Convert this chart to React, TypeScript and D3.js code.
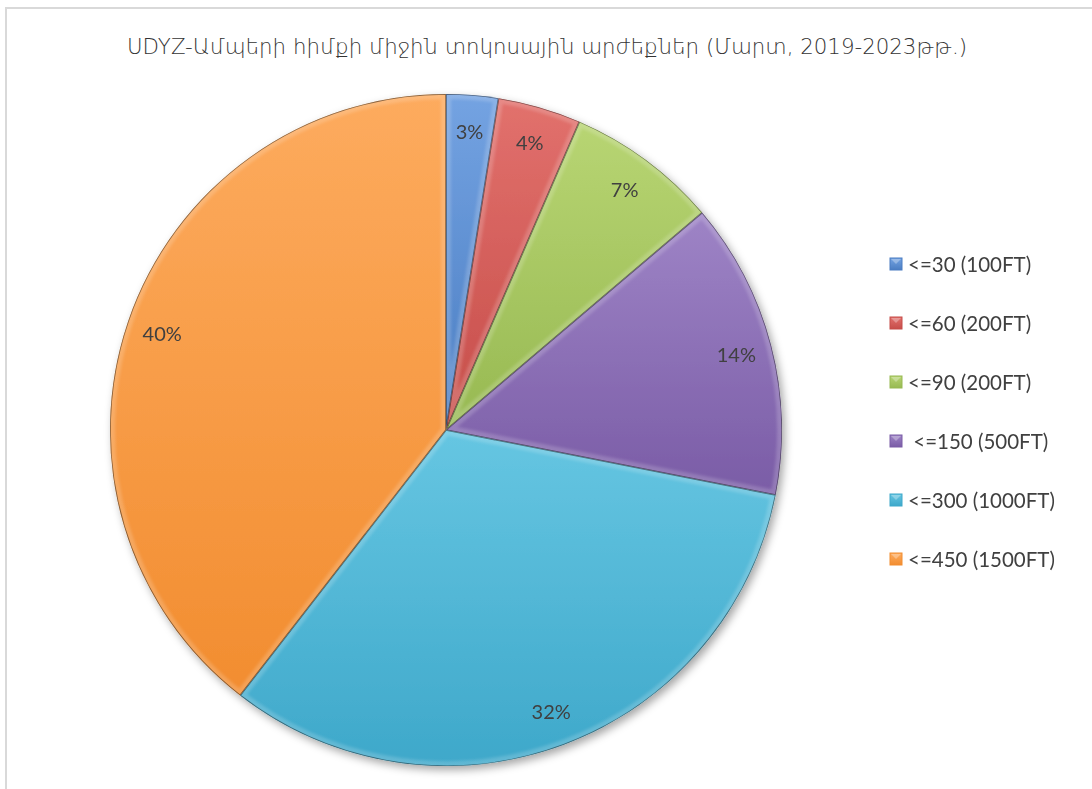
import React from "react";
import * as d3 from "d3";

const categories = ["<=30 (100FT)", "<=60 (200FT)", "<=90 (200FT)", " <=150 (500FT)", "<=300 (1000FT)", "<=450 (1500FT)"];
const values = [2.5, 4.0, 7.3, 14.3, 32.4, 39.5];
const colorsLight = ["#74a3e2", "#e2716d", "#b8d573", "#9e84c6", "#66c6e2", "#fdab5e"];
const colorsDark = ["#4a7dc2", "#c64d49", "#97b952", "#7a5ca6", "#3ea8ca", "#f28d30"];
const title = "UDYZ-Ամպերի հիմքի միջին տոկոսային արժեքներ (Մարտ, 2019-2023թթ.)";

const W = 1092;
const H = 789;
const cx = 446;
const cy = 430;
const R = 336;

export default function App() {
  const total = d3.sum(values);
  const pie = d3.pie<number>().sort(null).value((d) => d).startAngle(0).endAngle(2 * Math.PI);
  const arcs = pie(values);
  const arcGen = d3.arc<d3.PieArcDatum<number>>().innerRadius(0).outerRadius(R);
  const labelArc = d3.arc<d3.PieArcDatum<number>>().innerRadius(300).outerRadius(300);
  const legendY = d3.scalePoint<number>().domain(d3.range(categories.length)).range([264, 559]);

  return (
    <svg width={W} height={H} style={{ position: "absolute", left: 0, top: 0, background: "#fff" }}>
      <defs>
        <filter id="shadow" x="-20%" y="-20%" width="140%" height="140%">
          <feDropShadow dx="3" dy="4" stdDeviation="4" floodColor="#000" floodOpacity="0.35" />
        </filter>
        <filter id="soft" x="-5%" y="-5%" width="110%" height="110%">
          <feGaussianBlur stdDeviation="1.5" />
        </filter>
        {values.map((_, i) => (
          <linearGradient key={i} id={`g${i}`} x1="0" y1="0" x2="0" y2="1">
            <stop offset="0%" stopColor={colorsLight[i]} />
            <stop offset="100%" stopColor={colorsDark[i]} />
          </linearGradient>
        ))}
        {arcs.map((a, i) => (
          <clipPath key={i} id={`c${i}`}>
            <path d={arcGen(a) || ""} transform={`translate(${cx},${cy})`} />
          </clipPath>
        ))}
      </defs>
      <rect x={0} y={0} width={W} height={H} fill="#fff" />
      <path d={`M6,${H} L6,8 L${W},8`} fill="none" stroke="#d9d9d9" strokeWidth={2} />
      <text
        x={547}
        y={54}
        textAnchor="middle"
        fontFamily="DejaVu Sans, sans-serif"
        fontWeight={200}
        fontSize={21}
        fill="#333333"
        textLength={840}
        lengthAdjust="spacingAndGlyphs"
      >
        {title}
      </text>
      <g filter="url(#shadow)">
        {arcs.map((a, i) => (
          <path key={i} d={arcGen(a) || ""} transform={`translate(${cx},${cy})`} fill={`url(#g${i})`} />
        ))}
      </g>
      {arcs.map((a, i) => (
        <g key={i} clipPath={`url(#c${i})`}>
          <path
            d={arcGen(a) || ""}
            transform={`translate(${cx},${cy})`}
            fill="none"
            stroke="#ffffff"
            strokeOpacity={0.18}
            strokeWidth={10}
            strokeLinejoin="round"
            filter="url(#soft)"
          />
          <path
            d={arcGen(a) || ""}
            transform={`translate(${cx},${cy})`}
            fill="none"
            stroke="#000"
            strokeOpacity={0.45}
            strokeWidth={1.6}
          />
        </g>
      ))}
      {arcs.map((a, i) => {
        const [lx, ly] = labelArc.centroid(a);
        return (
          <text
            key={i}
            x={cx + lx}
            y={cy + ly}
            textAnchor="middle"
            dominantBaseline="central"
            fontFamily="Lato, 'Open Sans', sans-serif"
            fontSize={20}
            fill="#404040"
          >
            {`${Math.round((values[i] / total) * 100)}%`}
          </text>
        );
      })}
      {categories.map((c, i) => {
        const y = legendY(i) as number;
        return (
          <g key={i}>
            <rect x={890} y={y - 6} width={12} height={12} fill={`url(#g${i})`} stroke={colorsDark[i]} strokeWidth={1} />
            <path d={`M${891},${y - 5} L${901},${y - 5} L${896},${y}Z`} fill="#fff" fillOpacity={0.3} />
            <text
              x={908}
              y={y}
              dominantBaseline="central"
              fontFamily="Lato, 'Open Sans', sans-serif"
              fontSize={20.5}
              fill="#404040"
              style={{ whiteSpace: "pre" }}
            >
              {c}
            </text>
          </g>
        );
      })}
    </svg>
  );
}
